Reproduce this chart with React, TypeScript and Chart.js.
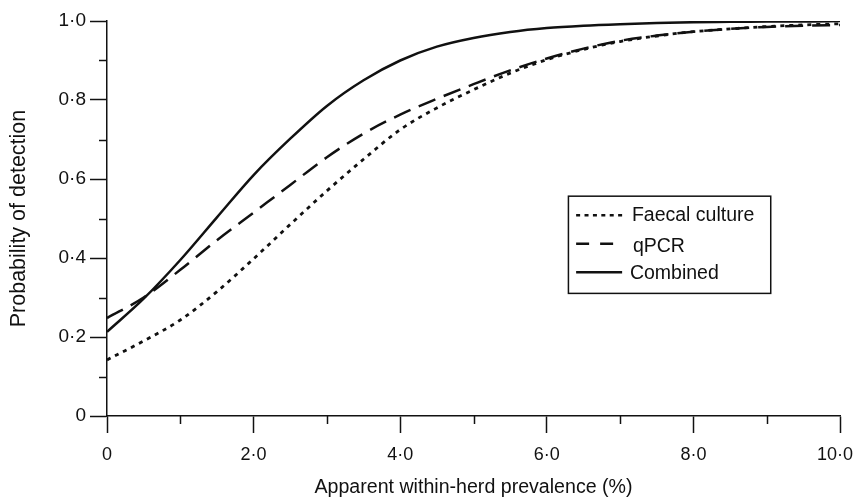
import React, { useEffect, useRef } from "react";
import { Chart, registerables } from "chart.js";

Chart.register(...registerables);

// Apparent within-herd prevalence (%)
const prevalence = [0, 0.5, 1, 1.5, 2, 2.5, 3, 3.5, 4, 4.5, 5, 5.5, 6, 6.5, 7, 7.5, 8, 8.5, 9, 9.5, 10];
const faecalCulture = [0.142, 0.19, 0.243, 0.315, 0.398, 0.485, 0.57, 0.65, 0.725, 0.78, 0.826, 0.868, 0.902, 0.928, 0.948, 0.962, 0.973, 0.98, 0.986, 0.99, 0.993];
const qpcr = [0.248, 0.3, 0.37, 0.445, 0.515, 0.585, 0.655, 0.715, 0.763, 0.803, 0.84, 0.875, 0.905, 0.93, 0.95, 0.963, 0.973, 0.98, 0.985, 0.988, 0.99];
const combined = [0.213, 0.297, 0.395, 0.503, 0.61, 0.702, 0.785, 0.85, 0.9, 0.935, 0.957, 0.972, 0.982, 0.988, 0.992, 0.995, 0.997, 0.998, 0.999, 0.999, 1.0];

const seriesLabels = ["Faecal culture", "qPCR", "Combined"];
const xTitle = "Apparent within-herd prevalence (%)";
const yTitle = "Probability of detection";

const FONT = '"Liberation Sans", Arial, sans-serif';

const fmt = (v: number) => (v === 0 ? "0" : v.toFixed(1).replace(".", "\u00B7"));

const minorTicks = {
  id: "minorTicks",
  afterDraw(chart: any) {
    const ctx = chart.ctx;
    const xs = chart.scales.x;
    const ys = chart.scales.y;
    const ca = chart.chartArea;
    ctx.save();
    ctx.strokeStyle = "#111";
    ctx.lineWidth = 1.5;
    for (let i = 1; i < 10; i += 2) {
      const px = Math.round(xs.getPixelForValue(i)) + 0.5;
      ctx.beginPath();
      ctx.moveTo(px, ca.bottom);
      ctx.lineTo(px, ca.bottom + 8);
      ctx.stroke();
    }
    for (let i = 1; i < 10; i += 2) {
      const py = Math.round(ys.getPixelForValue(i / 10)) + 0.5;
      ctx.beginPath();
      ctx.moveTo(ca.left, py);
      ctx.lineTo(ca.left - 8, py);
      ctx.stroke();
    }
    ctx.restore();
  },
};

const legendBox = {
  id: "legendBox",
  afterDraw(chart: any) {
    const ctx = chart.ctx;
    const ca = chart.chartArea;
    const bx = ca.left + 0.6295 * ca.width;
    const bx2 = ca.left + 0.9055 * ca.width;
    const by = ca.top + 0.4435 * ca.height;
    const by2 = ca.top + 0.6896 * ca.height;
    ctx.save();
    ctx.strokeStyle = "#111";
    ctx.lineWidth = 1.5;
    ctx.strokeRect(bx, by, bx2 - bx, by2 - by);
    const lineRows = [by + 19, by + 47.5, by + 76];
    const textRows = [by + 19, by + 50, by + 77];
    const dashes = [[4, 4.4], [13, 11], []];
    const lens = [46, 37, 46];
    const textX = [bx + 63.5, bx + 64.5, bx + 61.5];
    ctx.font = `19.5px ${FONT}`;
    ctx.fillStyle = "#111";
    ctx.textBaseline = "middle";
    ctx.textAlign = "left";
    for (let i = 0; i < 3; i++) {
      ctx.beginPath();
      ctx.setLineDash(dashes[i]);
      ctx.lineWidth = 2.5;
      ctx.moveTo(bx + 7.7, lineRows[i]);
      ctx.lineTo(bx + 7.7 + lens[i], lineRows[i]);
      ctx.stroke();
      ctx.setLineDash([]);
      ctx.fillText(seriesLabels[i], textX[i], textRows[i]);
    }
    ctx.restore();
  },
};

export default function App() {
  const ref = useRef<HTMLCanvasElement | null>(null);
  useEffect(() => {
    if (!ref.current) return;
    const mk = (data: number[]) => data.map((y, i) => ({ x: prevalence[i], y }));
    const chart = new Chart(ref.current, {
      type: "line",
      data: {
        datasets: [
          { label: seriesLabels[0], data: mk(faecalCulture), borderColor: "#111", borderWidth: 2.8, borderDash: [4, 5], pointRadius: 0, cubicInterpolationMode: "monotone", fill: false },
          { label: seriesLabels[1], data: mk(qpcr), borderColor: "#111", borderWidth: 2.5, borderDash: [18, 9], pointRadius: 0, cubicInterpolationMode: "monotone", fill: false },
          { label: seriesLabels[2], data: mk(combined), borderColor: "#111", borderWidth: 2.5, pointRadius: 0, cubicInterpolationMode: "monotone", fill: false },
        ],
      },
      options: {
        animation: false,
        responsive: false,
        devicePixelRatio: 1,
        layout: { padding: { left: 0, top: 21, right: 16, bottom: 0 } },
        plugins: { legend: { display: false }, tooltip: { enabled: false } },
        scales: {
          x: {
            type: "linear",
            min: 0,
            max: 10,
            afterFit: (s: any) => { s.height = 82; s.paddingLeft = 0; s.paddingRight = 0; },
            ticks: {
              stepSize: 1,
              autoSkip: false,
              maxRotation: 0,
              padding: 11,
              color: "#111",
              font: { family: FONT, size: 18 },
              callback: (v: any) => {
                const r = Math.round(v);
                if (r % 2 !== 0) return "";
                return r === 10 ? fmt(r) + "  " : fmt(r);
              },
            },
            grid: {
              drawOnChartArea: false,
              drawTicks: true,
              tickLength: 17,
              tickWidth: 1.5,
              tickColor: (c: any) => (c.tick && Math.round(c.tick.value) % 2 === 0 ? "#111" : "rgba(0,0,0,0)"),
            },
            border: { display: true, color: "#111", width: 1.5 },
            title: { display: true, text: xTitle, color: "#111", font: { family: FONT, size: 19.6, lineHeight: 1 }, padding: { top: 0, bottom: 1 } },
          },
          y: {
            type: "linear",
            min: 0,
            max: 1,
            afterFit: (s: any) => { s.width = 107; s.paddingTop = 0; s.paddingBottom = 0; },
            ticks: {
              stepSize: 0.1,
              autoSkip: false,
              padding: 4,
              color: "#111",
              font: { family: FONT, size: 19 },
              callback: (v: any) => {
                const r = Math.round(v * 10);
                return r % 2 === 0 ? fmt(r / 10) : "";
              },
            },
            grid: {
              drawOnChartArea: false,
              drawTicks: true,
              tickLength: 17,
              tickWidth: 1.5,
              tickColor: (c: any) => (c.tick && Math.round(c.tick.value * 10) % 2 === 0 ? "#111" : "rgba(0,0,0,0)"),
            },
            border: { display: true, color: "#111", width: 1.5 },
            title: { display: true, text: yTitle, color: "#111", font: { family: FONT, size: 21.5, lineHeight: 1 }, padding: { top: 8, bottom: 0 } },
          },
        },
      } as any,
      plugins: [minorTicks, legendBox],
    });
    return () => chart.destroy();
  }, []);
  return (
    <div style={{ position: "absolute", left: 0, top: 0, width: 856, height: 498, background: "#fff" }}>
      <canvas ref={ref} width={856} height={498} />
    </div>
  );
}
